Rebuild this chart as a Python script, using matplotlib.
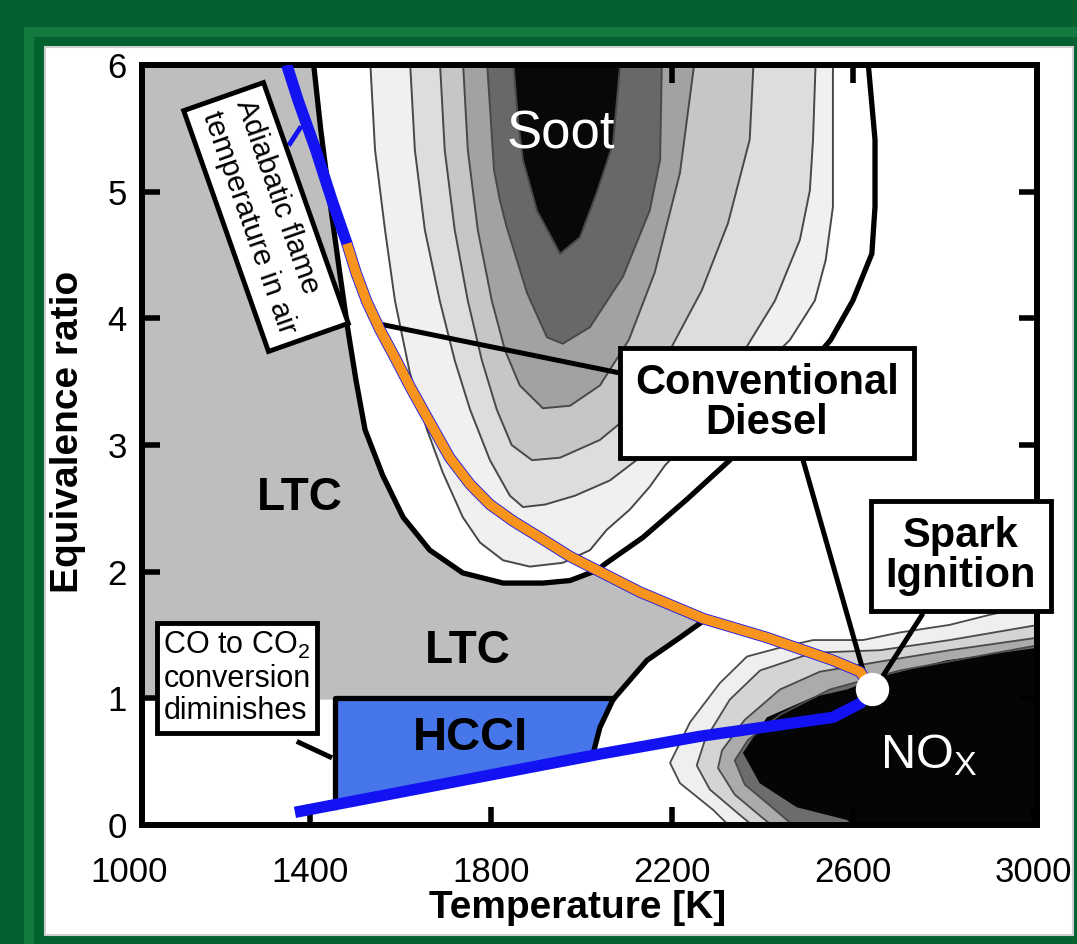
import numpy as np
import matplotlib
matplotlib.use('Agg')
import matplotlib.pyplot as plt
from matplotlib.patches import Polygon, Rectangle
from matplotlib.transforms import blended_transform_factory, ScaledTranslation

plt.rcParams['font.family'] = ['Liberation Sans', 'DejaVu Sans']
plt.rcParams['mathtext.fontset'] = 'custom'
plt.rcParams['mathtext.rm'] = 'Liberation Sans'
plt.rcParams['mathtext.it'] = 'Liberation Sans:italic'
plt.rcParams['mathtext.bf'] = 'Liberation Sans:bold'

# ---- data: temperature [K], equivalence ratio ----
x_ticks = [1400, 1800, 2200, 2600, 3000]
y_ticks = [0, 1, 2, 3, 4, 5, 6]
top_ticks = [2200, 2600]

# soot map: outer (thick) boundary, then nested contour levels
soot_edge_T = [1407, 1424, 1444, 1466, 1484, 1502, 1522, 1561, 1606, 1665, 1738, 1827, 1915,
               1975, 2034, 2056, 2136, 2233, 2328, 2551, 2600, 2642, 2649, 2649, 2633]
soot_edge_phi = [6.05, 5.49, 4.93, 4.36, 3.91, 3.51, 3.12, 2.76, 2.43, 2.17, 1.99, 1.91, 1.91,
                 1.93, 2.01, 2.07, 2.27, 2.57, 2.88, 3.83, 4.14, 4.51, 4.88, 5.41, 6.05]
soot_L1_T = [1533, 1544, 1566, 1588, 1621, 1659, 1694, 1738, 1776, 1827, 1886, 1959, 2019,
             2056, 2107, 2151, 2185, 2306, 2461, 2516, 2540, 2556, 2556]
soot_L1_phi = [6.05, 5.33, 4.70, 4.14, 3.57, 3.12, 2.78, 2.43, 2.23, 2.09, 2.04, 2.07, 2.17,
               2.33, 2.49, 2.67, 2.84, 3.28, 3.83, 4.14, 4.46, 4.88, 6.05]
soot_L2_T = [1621, 1632, 1654, 1687, 1720, 1754, 1798, 1842, 1871, 1920, 1986, 2063, 2151,
             2262, 2361, 2428, 2483, 2505, 2512, 2518]
soot_L2_phi = [6.05, 5.33, 4.70, 4.14, 3.67, 3.28, 2.88, 2.60, 2.51, 2.53, 2.60, 2.72, 2.96,
               3.31, 3.75, 4.14, 4.62, 5.01, 5.41, 6.05]
soot_L3_T = [1687, 1698, 1720, 1749, 1780, 1813, 1846, 1891, 1953, 2041, 2129, 2187, 2266,
             2324, 2372, 2381]
soot_L3_phi = [6.05, 5.33, 4.70, 4.14, 3.67, 3.28, 3.00, 2.88, 2.90, 3.04, 3.30, 3.69, 4.22,
               4.75, 5.41, 6.05]
soot_L4_T = [1738, 1749, 1771, 1802, 1831, 1864, 1915, 1975, 2041, 2105, 2162, 2218, 2251]
soot_L4_phi = [6.05, 5.33, 4.70, 4.14, 3.75, 3.47, 3.29, 3.31, 3.47, 3.83, 4.36, 5.15, 6.05]
soot_L5_T = [1791, 1800, 1807, 1820, 1835, 1880, 1924, 1959, 2019, 2092, 2151, 2174, 2178]
soot_L5_phi = [6.05, 5.56, 5.17, 4.93, 4.72, 4.20, 3.85, 3.80, 3.93, 4.33, 4.85, 5.25, 6.05]
soot_core_T = [1849, 1860, 1871, 1902, 1953, 1997, 2034, 2070, 2087]
soot_core_phi = [6.05, 5.56, 5.25, 4.85, 4.51, 4.64, 4.99, 5.38, 6.05]

# NOx map: nested contour levels opening to the high-temperature corner
nox_L1_T = [3010, 2903, 2814, 2704, 2622, 2512, 2439, 2366, 2306, 2240, 2196, 2218, 2291, 2339]
nox_L1_phi = [1.74, 1.66, 1.58, 1.52, 1.46, 1.46, 1.40, 1.33, 1.12, 0.81, 0.49, 0.33, 0.12, -0.05]
nox_L2_T = [3010, 2814, 2660, 2512, 2395, 2328, 2273, 2255, 2284, 2350, 2394]
nox_L2_phi = [1.58, 1.46, 1.38, 1.36, 1.22, 0.99, 0.67, 0.47, 0.28, 0.08, -0.05]
nox_L3_T = [3010, 2814, 2660, 2527, 2439, 2361, 2311, 2302, 2339, 2406, 2439]
nox_L3_phi = [1.48, 1.38, 1.29, 1.21, 1.07, 0.83, 0.59, 0.45, 0.24, 0.04, -0.05]
nox_L4_T = [3010, 2704, 2549, 2439, 2368, 2339, 2361, 2428, 2483]
nox_L4_phi = [1.42, 1.22, 1.07, 0.87, 0.67, 0.51, 0.32, 0.12, -0.05]
nox_core_T = [3010, 2807, 2660, 2587, 2512, 2410, 2357, 2394, 2476, 2587, 2616]
nox_core_phi = [1.40, 1.30, 1.17, 1.07, 1.01, 0.85, 0.57, 0.33, 0.14, 0.04, -0.05]

# low-temperature combustion (gray) region
ltc_T = [1000, 1440, 2041, 2129, 2269, 2218, 2145, 2070, 1000]
ltc_phi = [6.1, 6.1, 2.0, 1.84, 1.63, 1.48, 1.30, 0.99, 0.99]

# HCCI region and its boundaries
hcci_T = [1455, 2070, 2048, 2030, 2025, 1455]
hcci_phi = [1.0, 1.0, 0.80, 0.65, 0.55, 0.14]
hcci_frame_T = [1455, 1455, 2070]
hcci_frame_phi = [0.14, 1.0, 1.0]
nox_limit_T = [2025, 2041, 2070, 2145, 2218, 2269]
nox_limit_phi = [0.55, 0.77, 0.99, 1.30, 1.48, 1.61]

# adiabatic flame temperature in air (rich branch, lean branch)
flame_rich_T = [1349, 1374, 1413, 1449, 1482, 1502, 1526, 1555, 1588, 1623, 1665, 1709,
                1754, 1798, 1849, 1908, 1975, 2041, 2129, 2269, 2410, 2556, 2616, 2642]
flame_rich_phi = [6.0, 5.72, 5.33, 4.93, 4.59, 4.36, 4.13, 3.91, 3.69, 3.45, 3.18, 2.90,
                  2.69, 2.53, 2.40, 2.27, 2.12, 2.00, 1.84, 1.63, 1.48, 1.30, 1.21, 1.07]
diesel_start = 4
flame_lean_T = [1367, 2041, 2262, 2556, 2616, 2642]
flame_lean_phi = [0.10, 0.56, 0.70, 0.85, 0.96, 1.07]
si_point = (2642, 1.07)

# ---- figure ----
fig = plt.figure(figsize=(10.77, 9.44), dpi=100, facecolor='#03612f')
fig.patches.append(Rectangle((0.0269, -0.05), 1.2, 1.0161, transform=fig.transFigure,
                             fill=False, ec='#13793f', lw=7.2, zorder=-2))
fig.patches.append(Rectangle((0.0418, 0.0095), 0.9545, 0.9407, transform=fig.transFigure,
                             fc='white', ec='#cfcfcf', lw=1.5, zorder=-1))

ax = fig.add_axes([0.13185, 0.12606, 0.83101, 0.80508])
ax.set_xlim(1029, 3007)
ax.set_ylim(0, 6)
ax.set_axisbelow(False)
x0, x1 = ax.get_xlim()


def fill(T, phi, color, z, edge=None, lw=1.3):
    pts = np.column_stack([T, phi])
    ax.add_patch(Polygon(pts, closed=True, fc=color, ec='none', zorder=z))
    if edge is not None:
        ax.plot(T, phi, color=edge, lw=lw, zorder=z + 0.5, solid_joinstyle='round')


fill(ltc_T, ltc_phi, '#bebebe', 1.0)

# soot levels
fill(soot_edge_T, soot_edge_phi, 'white', 1.05)
soot_levels = [(soot_L1_T, soot_L1_phi, '#f0f0f0'), (soot_L2_T, soot_L2_phi, '#dddddd'),
               (soot_L3_T, soot_L3_phi, '#c6c6c6'), (soot_L4_T, soot_L4_phi, '#a2a2a2'),
               (soot_L5_T, soot_L5_phi, '#686868'), (soot_core_T, soot_core_phi, '#080808')]
for i, (T, phi, c) in enumerate(soot_levels):
    fill(T, phi, c, 1.1 + 0.05 * i, edge='#484848', lw=1.4)
ax.plot(soot_edge_T, soot_edge_phi, color='black', lw=3.8, zorder=2.0, solid_joinstyle='round')

# NOx levels
nox_levels = [(nox_L1_T, nox_L1_phi, '#efefef'), (nox_L2_T, nox_L2_phi, '#d4d4d4'),
              (nox_L3_T, nox_L3_phi, '#ababab'), (nox_L4_T, nox_L4_phi, '#6c6c6c'),
              (nox_core_T, nox_core_phi, '#050505')]
for i, (T, phi, c) in enumerate(nox_levels):
    fill(list(T) + [x1 + 5], list(phi) + [-0.05], c, 1.1 + 0.05 * i)
    if i < 4:
        ax.plot(T, phi, color='#4a4a4a', lw=1.3, zorder=1.45 + 0.05 * i)

# HCCI
fill(hcci_T, hcci_phi, '#4676ea', 1.6)
ax.plot(hcci_frame_T, hcci_frame_phi, color='black', lw=3.8, zorder=2.0)
ax.plot(nox_limit_T, nox_limit_phi, color='black', lw=3.8, zorder=2.0, solid_capstyle='round')

# leader lines
lk = dict(color='black', lw=3.6, zorder=3.0, solid_capstyle='butt')
ax.plot([1561, 2083], [3.95, 3.57], **lk)
ax.plot([2490, 2629], [2.88, 1.14], **lk)
ax.plot([2755, 2660], [1.67, 1.14], **lk)
ax.plot([1371, 1449], [0.66, 0.53], **lk)

# flame temperature curves
ax.plot(flame_rich_T, flame_rich_phi, color='#1212f2', lw=8.2, zorder=3.2,
        solid_joinstyle='round', solid_capstyle='butt')
ax.plot(flame_rich_T[diesel_start:], flame_rich_phi[diesel_start:], color='#f7941d', lw=7.0,
        zorder=3.3, solid_joinstyle='round', solid_capstyle='butt')
ax.plot(flame_lean_T, flame_lean_phi, color='#1212f2', lw=8.2, zorder=3.2,
        solid_joinstyle='round', solid_capstyle='butt')
ax.plot([1378, 1356], [5.50, 5.38], color='#1212f2', lw=3.5, zorder=3.2)
ax.plot(*si_point, 'o', ms=24, mfc='white', mec='none', zorder=3.5)

# region labels
ax.text(1835, 5.34, 'Soot', color='white', fontsize=38, ha='left', va='baseline', zorder=4)
ax.text(2660, 0.45, r'NO$_\mathregular{X}$', color='white', fontsize=35, ha='left',
        va='baseline', zorder=4)
ax.text(1378, 2.49, 'LTC', fontsize=33, fontweight='bold', ha='center', va='baseline', zorder=4)
ax.text(1749, 1.28, 'LTC', fontsize=33, fontweight='bold', ha='center', va='baseline', zorder=4)
ax.text(1754, 0.59, 'HCCI', fontsize=34, fontweight='bold', ha='center', va='baseline', zorder=4)

# boxed labels
box = dict(boxstyle='square,pad=0.36', fc='white', ec='black', lw=3.5)
ax.text(2410, 3.33, 'Conventional\nDiesel', fontsize=30, fontweight='bold', ha='center',
        va='center', linespacing=1.0, bbox=box, zorder=6)
ax.text(2839, 2.12, 'Spark\nIgnition', fontsize=30, fontweight='bold', ha='center',
        va='center', linespacing=1.0, bbox=box, zorder=6)
ax.text(1239, 1.16, 'CO to CO$_2$\nconversion\ndiminishes', fontsize=22, ha='center',
        va='center', multialignment='left', linespacing=1.1,
        bbox=dict(boxstyle='square,pad=0.22', fc='white', ec='black', lw=3.5), zorder=6)
ax.text(1303, 4.80, 'Adiabatic flame\ntemperature in air', fontsize=21.5, rotation=-70.6,
        rotation_mode='anchor', ha='center', va='center', multialignment='left',
        linespacing=1.35, bbox=dict(boxstyle='square,pad=0.35', fc='white', ec='black', lw=3.5),
        zorder=6)

# axes styling
for s in ax.spines.values():
    s.set_linewidth(4.3)
    s.set_zorder(2.6)
ax.set_xticks(x_ticks)
ax.set_yticks(y_ticks)
ax.tick_params(direction='in', length=13, width=4, labelsize=25, top=False, right=True)
ax.tick_params(axis='x', pad=22)
ax.tick_params(axis='y', pad=11)
ax.plot(top_ticks, [6, 6], ls='none', marker=3, ms=13, mew=4, color='black', clip_on=False,
        zorder=2.6)
trans = blended_transform_factory(ax.transData, ax.transAxes) + \
    ScaledTranslation(0, -22 / 72, fig.dpi_scale_trans)
ax.text(1000, 0, '1000', transform=trans, fontsize=25, ha='center', va='top', clip_on=False)

ax.set_xlabel('Temperature [K]', fontsize=28, fontweight='bold')
ax.xaxis.set_label_coords(0.487, -0.109)
ax.xaxis.label.set_va('center')
ax.set_ylabel('Equivalence ratio', fontsize=28, fontweight='bold')
ax.yaxis.set_label_coords(-0.083, 0.517)
ax.yaxis.label.set_va('center')

fig.savefig('out.png', dpi=100, facecolor=fig.get_facecolor())
